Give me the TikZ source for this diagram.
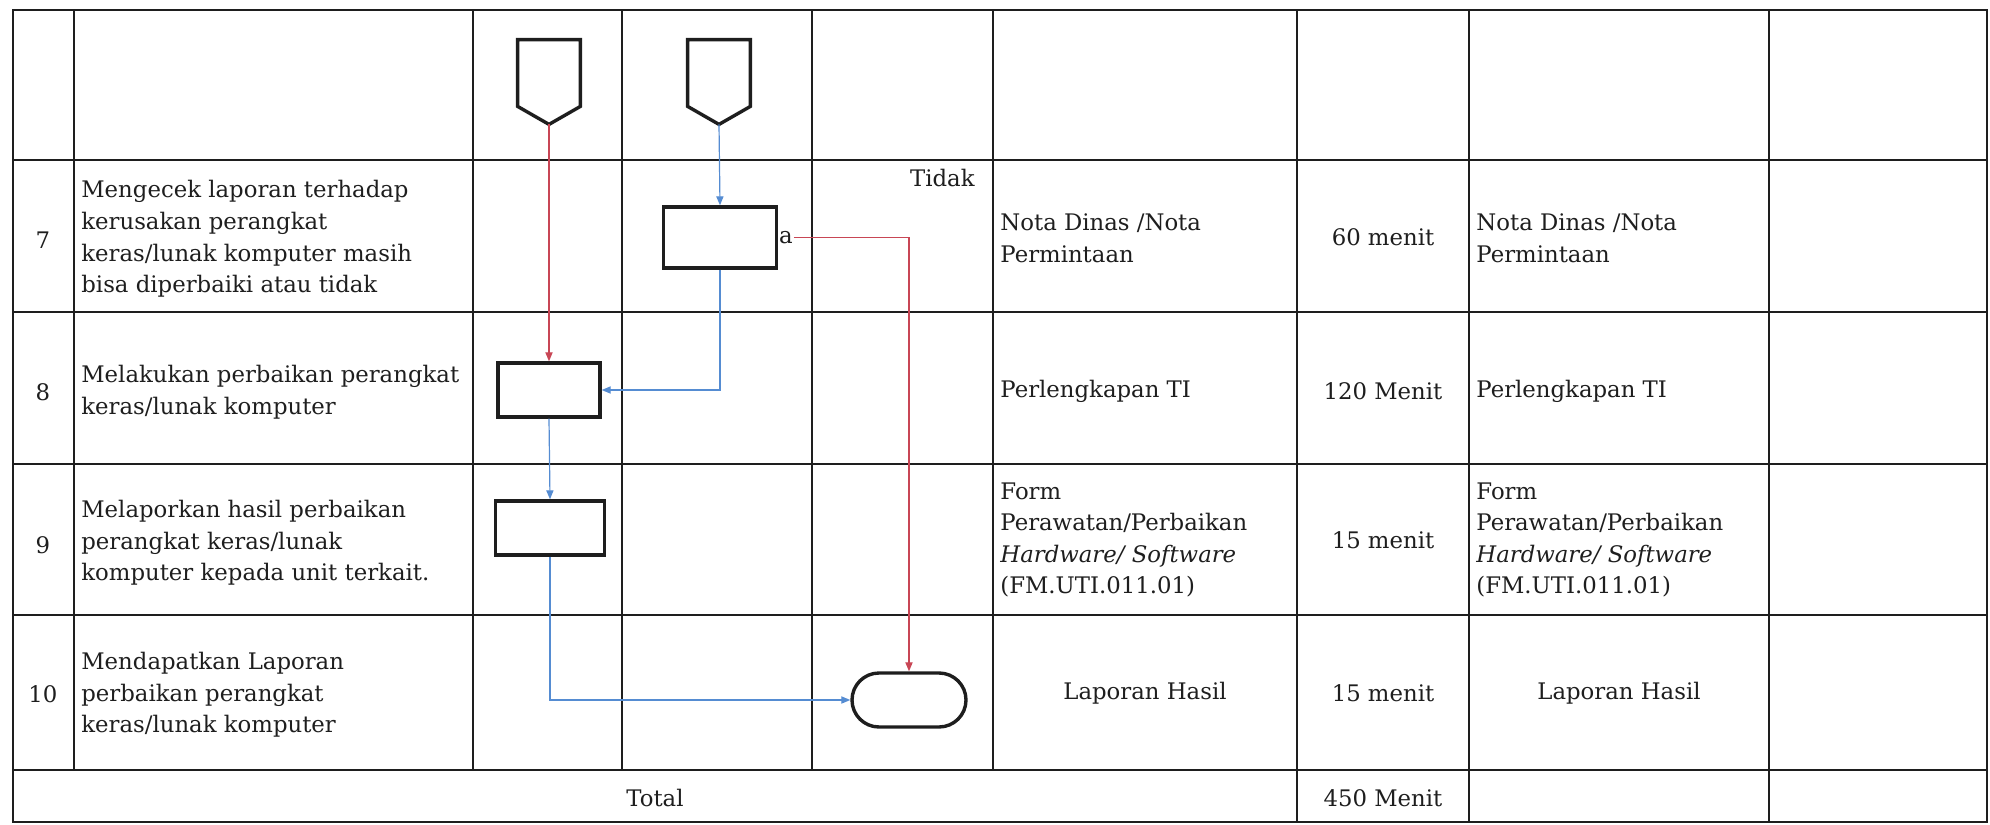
\documentclass[tikz,border=0pt]{standalone}
\usepackage{fontspec}
\setmainfont{DejaVu Serif}
\usetikzlibrary{arrows.meta,calc}
\definecolor{lred}{RGB}{200,70,85}
\definecolor{lblue}{RGB}{85,140,210}
\definecolor{ink}{RGB}{30,30,30}
\begin{document}
\begin{tikzpicture}[x=0.5pt,y=-0.5pt,
  gridline/.style={line width=0.9pt,draw=ink},
  outerline/.style={line width=1.4pt,draw=ink},
  txt/.style={inner sep=0pt,align=left,font=\fontsize{11.4pt}{15.8pt}\selectfont,text=ink},
  ctxt/.style={txt,align=center},
  shapeline/.style={line width=1.7pt,draw=ink},
  procbox/.style={shapeline,draw,minimum height=27pt,inner sep=0pt},
  anchorbox/.style={draw=none,minimum width=31pt,minimum height=42pt,inner sep=0pt},
  redarrow/.style={draw=lred,line width=0.6pt,-{Triangle[length=4.5pt,width=3.6pt]}},
  bluearrow/.style={draw=lblue,line width=0.6pt,-{Triangle[length=4.5pt,width=3.6pt]}}
]
\useasboundingbox (0,0) rectangle (1990,824);
% table grid
\draw[outerline] (13,10) rectangle (1987,822);
\foreach \yy in {160,312,464,615,770} \draw[gridline] (13,\yy) -- (1987,\yy);
\foreach \xx in {74,473,622,812,993} \draw[gridline] (\xx,10) -- (\xx,770);
\foreach \xx in {1297,1469,1769} \draw[gridline] (\xx,10) -- (\xx,822);

% off-page connectors
\node[anchorbox] (conn1) at (549,82) {};
\node[anchorbox] (conn2) at (719,82) {};
\foreach \c in {conn1,conn2}
  \draw[shapeline,line join=miter] (\c.north west) -- (\c.north east) -- ($(\c.south east)+(0,-18)$) -- (\c.south) -- ($(\c.south west)+(0,-18)$) -- cycle;

% process boxes
\node[procbox,minimum width=56.5pt,minimum height=30.5pt] (box7) at (720,237.5) {};
\node[procbox,minimum width=51pt] (box8) at (549,390) {};
\node[procbox,minimum width=54.5pt] (box9) at (550,528) {};
\node[shapeline,draw,rounded corners=13.5pt,minimum width=57pt,minimum height=27pt,inner sep=0pt] (term) at (909,700) {};
\node[txt,anchor=west,inner sep=0.3pt] (alab) at (box7.east) {a};

% connectors
\draw[redarrow] (conn1.south) -- (box8.north);
\draw[bluearrow] (conn2.south) -- (box7.north);
\draw[bluearrow] (box7.south) |- (box8.east);
\draw[bluearrow] (box8.south) -- (box9.north);
\draw[bluearrow] (box9.south) |- (term.west);
\draw[redarrow] (alab.east) -| (term.north);

\node[txt,anchor=east] (tidak) at (975,178) {Tidak};

% numbers
\node[ctxt] (n7) at (43,240) {7};
\node[ctxt] (n8) at (43,392) {8};
\node[ctxt] (n9) at (43,545) {9};
\node[ctxt] (n10) at (43,694) {10};

% descriptions
\node[txt,anchor=west] (d7) at (81,239) {Mengecek laporan terhadap\\kerusakan perangkat\\keras/lunak komputer masih\\bisa diperbaiki atau tidak};
\node[txt,anchor=west] (d8) at (81,392) {Melakukan perbaikan perangkat\\keras/lunak komputer};
\node[txt,anchor=west] (d9) at (81,543) {Melaporkan hasil perbaikan\\perangkat keras/lunak\\komputer kepada unit terkait.};
\node[txt,anchor=west] (d10) at (81,695) {Mendapatkan Laporan\\perbaikan perangkat\\keras/lunak komputer};

% kelengkapan
\node[txt,anchor=west] (k7) at (1000,238) {Nota Dinas /Nota\\Permintaan};
\node[txt,anchor=west] (k8) at (1000,391) {Perlengkapan TI};
\node[txt,anchor=west] (k9) at (1000,540) {Form\\Perawatan/Perbaikan\\\textit{Hardware/ Software}\\(FM.UTI.011.01)};
\node[ctxt] (k10) at (1145,693) {Laporan Hasil};

% waktu
\node[ctxt] (w7) at (1383,237) {60 menit};
\node[ctxt] (w8) at (1383,391) {120 Menit};
\node[ctxt] (w9) at (1383,540) {15 menit};
\node[ctxt] (w10) at (1383,693) {15 menit};
\node[ctxt] (wt) at (1383,798) {450 Menit};

% output
\node[txt,anchor=west] (o7) at (1476,238) {Nota Dinas /Nota\\Permintaan};
\node[txt,anchor=west] (o8) at (1476,391) {Perlengkapan TI};
\node[txt,anchor=west] (o9) at (1476,540) {Form\\Perawatan/Perbaikan\\\textit{Hardware/ Software}\\(FM.UTI.011.01)};
\node[ctxt] (o10) at (1619,693) {Laporan Hasil};

\node[ctxt] (total) at (655,798) {Total};
\end{tikzpicture}
\end{document}
